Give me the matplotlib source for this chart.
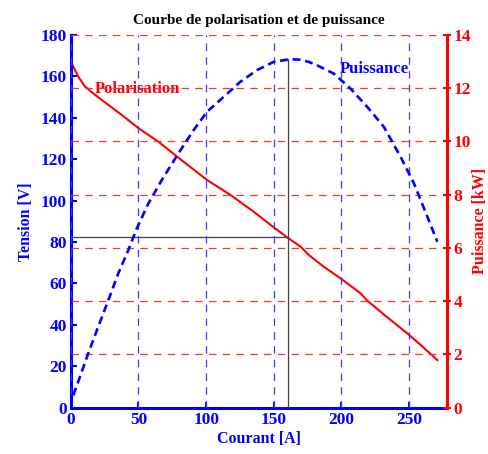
import matplotlib
matplotlib.use('Agg')
from matplotlib import pyplot as plt
import numpy as np

plt.rcParams['font.family'] = ['Liberation Serif', 'DejaVu Serif']
plt.rcParams['font.weight'] = 'bold'
plt.rcParams['axes.labelweight'] = 'bold'
plt.rcParams['axes.titleweight'] = 'bold'

# courbe de polarisation (courant A, tension V)
I_pol = [0, 0.5, 5.4, 10.4, 17.8, 27.7, 37.6, 49.9, 64.7, 78.4, 100.6, 117.9,
         135.1, 150, 159.9, 169.8, 175.9, 187, 199.4, 214.2, 219.2, 234, 248.8,
         258.7, 271.1]
V_pol = [149, 166.4, 159.9, 155.1, 151.1, 146.2, 141.4, 135, 128.5, 121.3, 110,
         102.8, 94.7, 87.1, 82.3, 77.8, 73.8, 68.1, 62.5, 55.3, 51.7, 43.7, 35.9,
         30.3, 23]

# courbe de puissance (courant A, puissance kW)
I_pui = [0, 0.5, 6.7, 12.8, 20.2, 27.7, 35.1, 42.5, 48.7, 57.3, 67.2, 79.5, 90.7,
         100.6, 112.9, 125.3, 137.7, 150, 162.3, 169.8, 175.9, 182.1, 194.4, 206.8,
         219.2, 231.5, 243.9, 253.8, 263.7, 271.1]
P_pui = [0, 0.29, 1.16, 2.04, 3.04, 4.04, 5.05, 5.92, 6.73, 7.67, 8.55, 9.55,
         10.42, 11.11, 11.67, 12.24, 12.68, 12.99, 13.09, 13.07, 12.99, 12.86,
         12.55, 11.99, 11.3, 10.55, 9.42, 8.42, 7.17, 6.23]

# point de puissance maximale
I_max = 160.4
V_max = 82.3
P_max = 13.08

x_ticks = [0, 50, 100, 150, 200, 250]
v_ticks = list(range(0, 181, 20))
p_ticks = list(range(0, 15, 2))

fig = plt.figure(figsize=(4.89, 4.54), dpi=100)
ax1 = fig.add_axes([0.145, 0.102, 0.7685, 0.821])
ax2 = ax1.twinx()

bleu = '#0000ff'
rouge = '#ff0000'

# grilles
for x in x_ticks:
    ax2.axvline(x, color='#3a3aff', ls=(0, (6, 5)), lw=0.9, zorder=0)
for p in p_ticks[1:]:
    ax2.axhline(p, color='#ff3030', ls=(0, (6, 5)), lw=0.9, zorder=0)

ax1.plot(I_pol, V_pol, color=rouge, lw=1.5)
ax2.plot(I_pui, P_pui, color=bleu, lw=1.9, ls=(0, (3, 1.8)))

ax1.plot([0, I_max], [V_max, V_max], color='#444444', lw=0.9)
ax2.plot([I_max, I_max], [0, P_max], color='#444444', lw=0.9)

ax1.set_xlim(0, 278)
ax1.set_ylim(0, 180)
ax2.set_ylim(0, 14)
ax1.set_xticks(x_ticks)
ax1.set_yticks(v_ticks)
ax2.set_yticks(p_ticks)

for s in ['top', 'right']:
    ax1.spines[s].set_visible(False)
ax2.spines['top'].set_visible(False)
ax2.spines['left'].set_visible(False)
ax2.spines['bottom'].set_visible(False)
ax1.spines['left'].set_color(bleu)
ax1.spines['left'].set_linewidth(2.2)
ax1.spines['bottom'].set_color(bleu)
ax1.spines['bottom'].set_linewidth(2.2)
ax2.spines['right'].set_color(rouge)
ax2.spines['right'].set_linewidth(2.2)

ax1.tick_params(axis='y', colors=bleu, direction='in', length=4, width=1.5,
                labelsize=12.5, pad=3)
ax1.tick_params(axis='x', colors=bleu, direction='in', length=4, width=1.5,
                labelsize=12.5, pad=3)
ax2.tick_params(axis='y', colors=rouge, direction='inout', length=6, width=1.5,
                labelsize=12.5, pad=2)

ax1.set_xlabel('Courant [A]', color=bleu, fontsize=11.5, labelpad=2)
ax1.set_ylabel('Tension [V]', color=bleu, fontsize=11.5, labelpad=5)
ax2.set_ylabel('Puissance [kW]', color=rouge, fontsize=11.5, labelpad=0.5)
ax1.set_title('Courbe de polarisation et de puissance', fontsize=11, pad=8)

ax1.text(17.8, 154, 'Polarisation', color=rouge, fontsize=12, ha='left', va='center')
ax1.text(198.7, 163.6, 'Puissance', color=bleu, fontsize=12, ha='left', va='center')

fig.savefig('out.png', dpi=100)
